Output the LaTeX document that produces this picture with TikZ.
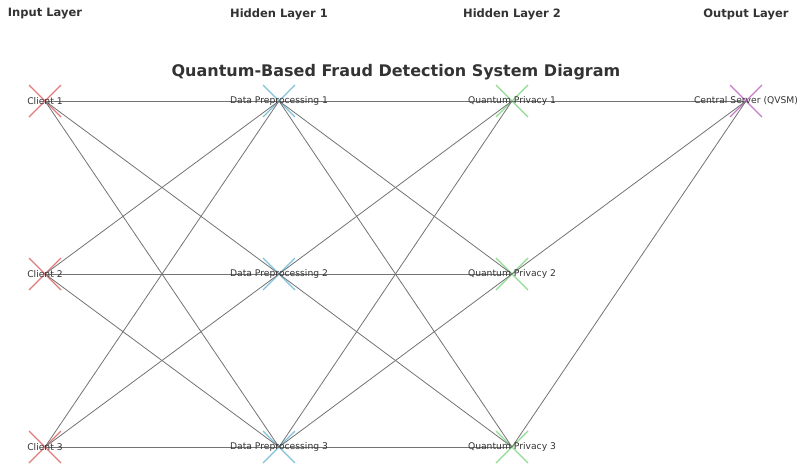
\documentclass[tikz,border=0pt]{standalone}
\usepackage{fontspec}
\setmainfont{DejaVu Sans}
\begin{document}
\begin{tikzpicture}[x=1pt,y=-1pt,
  lbl/.style={font=\fontsize{9.2}{11}\selectfont,text=black!80,inner sep=0},
  hdr/.style={font=\fontsize{11.5}{13}\selectfont\bfseries,text=black!80},
  edge/.style={draw=black!55,line width=0.8pt}]
\useasboundingbox (0,0) rectangle (806,474);
\definecolor{cred}{HTML}{E07B7B}\definecolor{cblue}{HTML}{7FC3DB}
\definecolor{cgreen}{HTML}{90DC90}\definecolor{cpurp}{HTML}{C77BCB}
\node[hdr] at (45,14) {Input Layer};
\node[hdr] at (279,14) {Hidden Layer 1};
\node[hdr] at (512,14) {Hidden Layer 2};
\node[hdr] at (746,14) {Output Layer};
\node[font=\fontsize{16}{18}\selectfont\bfseries,text=black!80] at (396,72) {Quantum-Based Fraud Detection System Diagram};
\foreach \c/\x/\col in {c/45/cred,d/279/cblue,q/512/cgreen}{
  \foreach \r/\y in {1/101,2/274,3/447}{
    \coordinate (\c\r) at (\x,\y);
    \draw[\col,line width=1.2pt] (\x-16,\y-16)--(\x+16,\y+16) (\x-16,\y+16)--(\x+16,\y-16);
  }}
\coordinate (s) at (746,101);
\draw[cpurp,line width=1.2pt] (730,85)--(762,117) (730,117)--(762,85);
\foreach \i in {1,2,3}{\foreach \j in {1,2,3}{
  \draw[edge] (c\i)--(d\j); \draw[edge] (d\i)--(q\j);}
  \draw[edge] (q\i)--(s);}
\foreach \r in {1,2,3}{
  \node[lbl] at (c\r) {Client \r};
  \node[lbl] at (d\r) {Data Preprocessing \r};
  \node[lbl] at (q\r) {Quantum Privacy \r};}
\node[lbl] at (s) {Central Server (QVSM)};
\end{tikzpicture}
\end{document}
